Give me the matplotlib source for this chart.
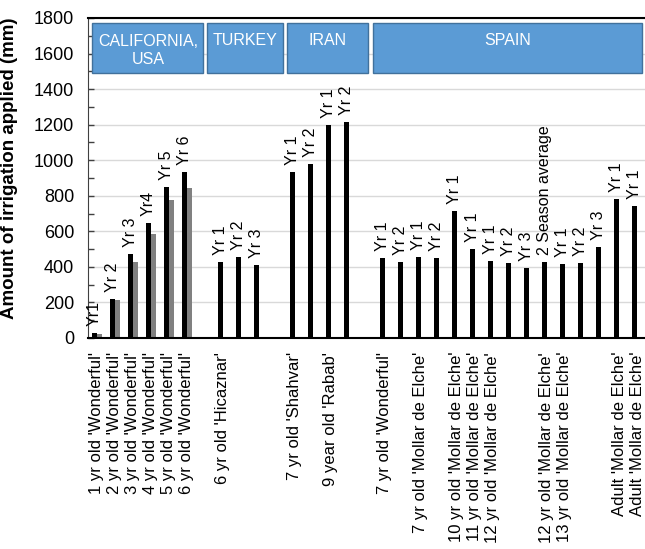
import numpy as np
import matplotlib.pyplot as plt
from matplotlib.patches import Rectangle
from matplotlib.ticker import MultipleLocator

plt.rcParams['font.family'] = ['Liberation Sans', 'DejaVu Sans']

nan = np.nan

# one slot per bar position, '' / nan are the gaps between countries
tick_labels = [
    "1 yr old 'Wonderful'", "2 yr old 'Wonderful'", "3 yr old 'Wonderful'",
    "4 yr old 'Wonderful'", "5 yr old 'Wonderful'", "6 yr old 'Wonderful'",
    "", "6 yr old 'Hicaznar'", "", "",
    "", "7 yr old 'Shahvar'", "", "9 year old 'Rabab'", "",
    "", "7 yr old 'Wonderful'", "", "7 yr old 'Mollar de Elche'", "",
    "10 yr old 'Mollar de Elche'", "11 yr old 'Mollar de Elche'",
    "12 yr old 'Mollar de Elche'", "", "",
    "12 yr old 'Mollar de Elche'", "13 yr old 'Mollar de Elche'", "", "",
    "Adult 'Mollar de Elche'", "Adult 'Mollar de Elche'",
]

irrigation = [26, 218, 472, 645, 851, 932,
              nan, 427, 457, 409,
              nan, 932, 977, 1198, 1213,
              nan, 448, 427, 457, 448, 713, 502, 435, 420, 392, 427, 414, 420, 514, 780, 744]

irrigation_2 = [20, 214, 426, 583, 776, 842] + [nan] * 25

bar_labels = ['Yr1', 'Yr 2', 'Yr 3', 'Yr4', 'Yr 5', 'Yr 6',
              '', 'Yr 1', 'Yr 2', 'Yr 3',
              '', 'Yr 1', 'Yr 2', 'Yr 1', 'Yr 2',
              '', 'Yr 1', 'Yr 2', 'Yr 1', 'Yr 2', 'Yr 1', 'Yr 1', 'Yr 1', 'Yr 2', 'Yr 3',
              '2 Season average', 'Yr 1', 'Yr 2', 'Yr 3', 'Yr 1', 'Yr 1']

regions = ['CALIFORNIA,\nUSA', 'TURKEY', 'IRAN', 'SPAIN']
region_spans = [(-0.26, 5.9), (6.13, 10.35), (10.57, 15.07), (15.35, 30.25)]

x = np.arange(len(tick_labels))
w = 0.28

fig = plt.figure(figsize=(6.45, 5.49), dpi=100)
ax = fig.add_axes([88 / 645, 1 - 338 / 549, 558 / 645, 320 / 549])

ax.bar(x - w / 2, irrigation, width=w, color='black', zorder=3)
ax.bar(x + w / 2, irrigation_2, width=w, color='#808080', zorder=2)

for xi, v, lab in zip(x, irrigation, bar_labels):
    if lab:
        ax.annotate(lab, xy=(xi - w / 2, v), xytext=(0, 5), textcoords='offset points',
                    rotation=90, ha='center', va='bottom', fontsize=11.5)

# country header boxes
for name, (x0, x1) in zip(regions, region_spans):
    ax.add_patch(Rectangle((x0, 1490), x1 - x0, 282, facecolor='#5b9bd5',
                           edgecolor='#41719c', linewidth=1, zorder=4))
    ty = 1620 if '\n' in name else 1676
    ax.text((x0 + x1) / 2, ty, name, ha='center', va='center', color='white',
            fontsize=11.5, linespacing=1.25, zorder=5)

ax.set_xlim(-0.5, 30.5)
ax.set_ylim(0, 1800)
ax.yaxis.set_major_locator(MultipleLocator(200))
ax.yaxis.set_minor_locator(MultipleLocator(100))
ax.tick_params(axis='y', which='both', direction='in', length=4, width=1,
               color='#404040', labelsize=13, pad=10)
ax.set_xticks(x)
ax.set_xticklabels(tick_labels, rotation=90, fontsize=12)
ax.tick_params(axis='x', length=0, pad=10)

ax.set_axisbelow(True)
ax.grid(axis='y', color='#d9d9d9', linewidth=1)

ax.spines['right'].set_visible(False)
ax.spines['top'].set_linewidth(1.5)
ax.spines['bottom'].set_linewidth(1.5)
ax.spines['left'].set_color('#404040')

ax.set_ylabel('Amount of irrigation applied (mm)', fontsize=13.5, fontweight='bold')
ax.yaxis.set_label_coords(-0.126, 0.53)

fig.savefig('out.png', dpi=100)
